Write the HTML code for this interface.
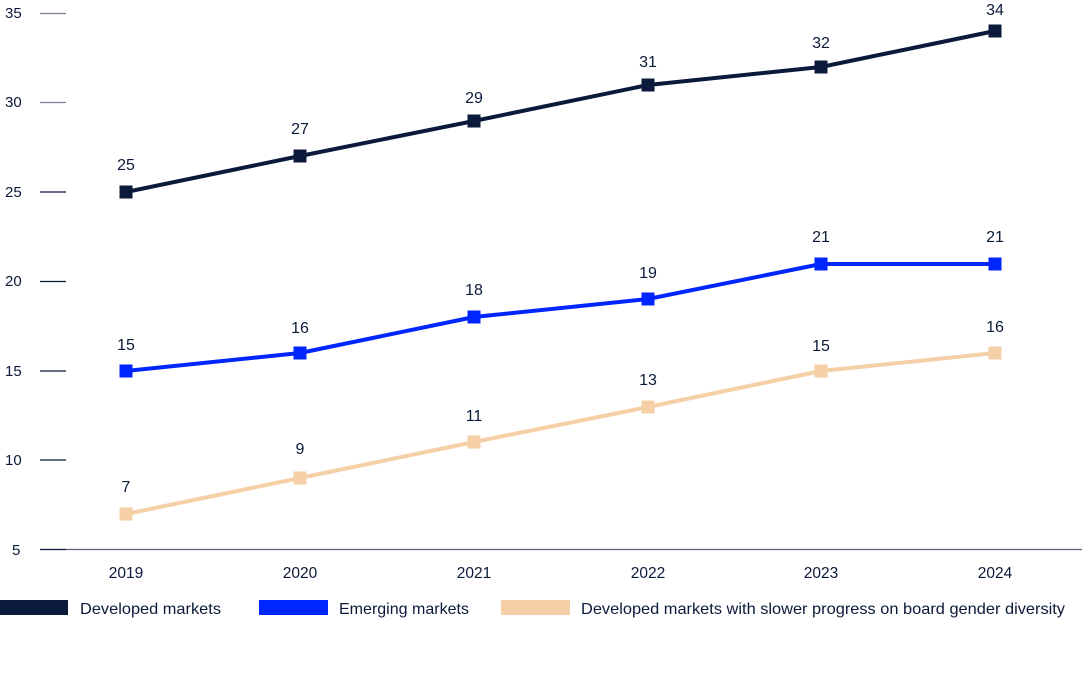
<!DOCTYPE html>
<html><head><meta charset="utf-8"><style>
html,body{margin:0;padding:0;background:#fff}
svg{display:block}
text{font-family:"Liberation Sans",sans-serif;fill:#0b1a3a}
</style></head><body>
<svg width="1090" height="674" viewBox="0 0 1090 674" xmlns="http://www.w3.org/2000/svg">
<g font-size="15">
<text x="5" y="18">35</text>
<text x="5" y="107">30</text>
<text x="5" y="197">25</text>
<text x="5" y="286">20</text>
<text x="5" y="376">15</text>
<text x="5" y="465">10</text>
<text x="12" y="555">5</text>
</g>
<g stroke-width="1.3">
<line x1="40" y1="13.5" x2="66" y2="13.5" stroke="#7a8290"/>
<line x1="40" y1="102.5" x2="66" y2="102.5" stroke="#7a8290"/>
<line x1="40" y1="192" x2="66" y2="192" stroke="#0b1a3a"/>
<line x1="40" y1="281.5" x2="66" y2="281.5" stroke="#0b1a3a"/>
<line x1="40" y1="371" x2="66" y2="371" stroke="#0b1a3a"/>
<line x1="40" y1="460" x2="66" y2="460" stroke="#0b1a3a"/>
<line x1="40" y1="549.5" x2="66" y2="549.5" stroke="#0b1a3a"/>
<line x1="66" y1="549.5" x2="1082" y2="549.5" stroke="#59627a"/>
</g>
<g font-size="15.5" text-anchor="middle">
<text x="126" y="578">2019</text><text x="300" y="578">2020</text><text x="474" y="578">2021</text>
<text x="648" y="578">2022</text><text x="821" y="578">2023</text><text x="995" y="578">2024</text>
</g>
<polyline fill="none" stroke="#f5cfa5" stroke-width="4" points="126,514 300,478 474,442 648,407 821,371 995,353"/>
<g fill="#f5cfa5">
<rect x="119.5" y="507.5" width="13" height="13"/><rect x="293.5" y="471.5" width="13" height="13"/><rect x="467.5" y="435.5" width="13" height="13"/>
<rect x="641.5" y="400.5" width="13" height="13"/><rect x="814.5" y="364.5" width="13" height="13"/><rect x="988.5" y="346.5" width="13" height="13"/>
</g>
<polyline fill="none" stroke="#0026ff" stroke-width="4" points="126,371 300,353 474,317 648,299 821,264 995,264"/>
<g fill="#0026ff">
<rect x="119.5" y="364.5" width="13" height="13"/><rect x="293.5" y="346.5" width="13" height="13"/><rect x="467.5" y="310.5" width="13" height="13"/>
<rect x="641.5" y="292.5" width="13" height="13"/><rect x="814.5" y="257.5" width="13" height="13"/><rect x="988.5" y="257.5" width="13" height="13"/>
</g>
<polyline fill="none" stroke="#0b1a3a" stroke-width="4" points="126,192 300,156 474,121 648,85 821,67 995,31"/>
<g fill="#0b1a3a">
<rect x="119.5" y="185.5" width="13" height="13"/><rect x="293.5" y="149.5" width="13" height="13"/><rect x="467.5" y="114.5" width="13" height="13"/>
<rect x="641.5" y="78.5" width="13" height="13"/><rect x="814.5" y="60.5" width="13" height="13"/><rect x="988.5" y="24.5" width="13" height="13"/>
</g>
<g font-size="16" text-anchor="middle">
<text x="126" y="170">25</text><text x="300" y="134">27</text><text x="474" y="103">29</text>
<text x="648" y="67">31</text><text x="821" y="48">32</text><text x="995" y="15">34</text>
<text x="126" y="350">15</text><text x="300" y="333">16</text><text x="474" y="295">18</text>
<text x="648" y="278">19</text><text x="821" y="242">21</text><text x="995" y="242">21</text>
<text x="126" y="492">7</text><text x="300" y="454">9</text><text x="474" y="421">11</text>
<text x="648" y="385">13</text><text x="821" y="351">15</text><text x="995" y="332">16</text>
</g>
<rect x="0" y="600" width="68" height="15" fill="#0b1a3a"/>
<rect x="259" y="600" width="69" height="15" fill="#0026ff"/>
<rect x="501" y="600" width="69" height="15" fill="#f5cfa5"/>
<g font-size="16">
<text x="80" y="614" textLength="141" lengthAdjust="spacingAndGlyphs">Developed markets</text>
<text x="339" y="614" textLength="130" lengthAdjust="spacingAndGlyphs">Emerging markets</text>
<text x="581" y="614" textLength="484" lengthAdjust="spacingAndGlyphs">Developed markets with slower progress on board gender diversity</text>
</g>
</svg>
</body></html>
